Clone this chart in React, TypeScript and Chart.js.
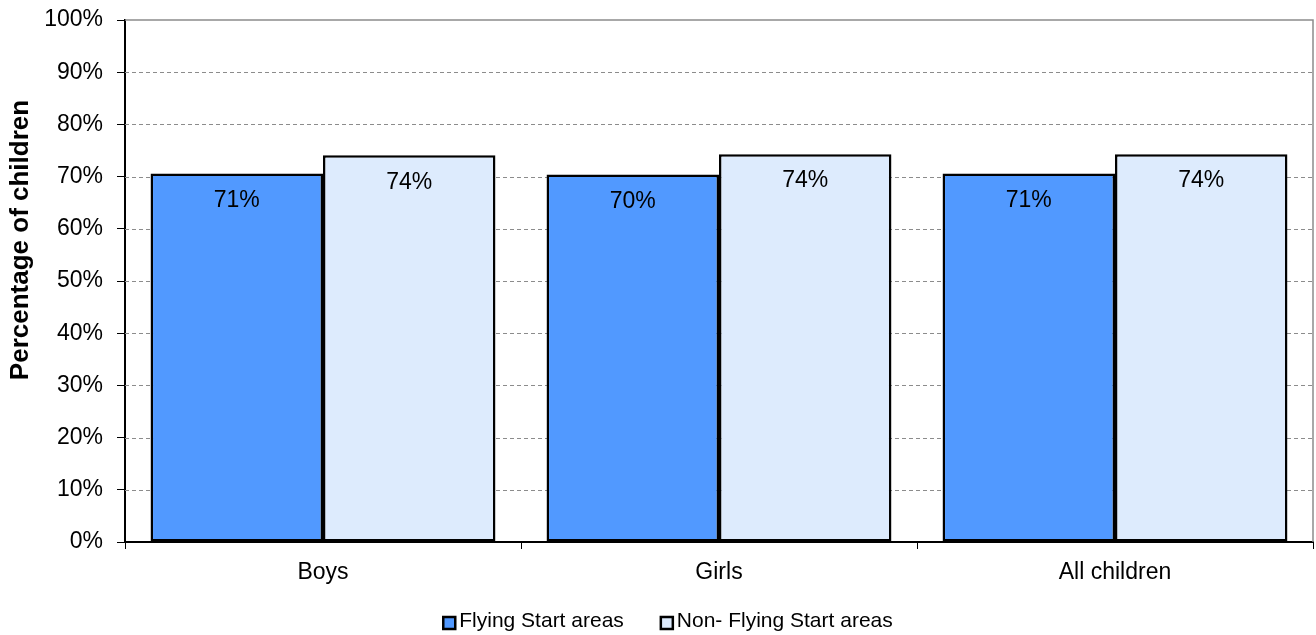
import React, { useEffect, useRef } from "react";
import { Chart, registerables } from "chart.js";

Chart.register(...registerables);

const categories = ["Boys", "Girls", "All children"];
const flyingStart = [70.6, 70.4, 70.6];
const nonFlyingStart = [74.1, 74.3, 74.3];
const seriesNames = ["Flying Start areas", "Non- Flying Start areas"];
const yTicks = [0, 10, 20, 30, 40, 50, 60, 70, 80, 90, 100];
const yTitle = "Percentage of children";

const FS_COLOR = "#5199FF";
const NFS_COLOR = "#DDEBFD";
const FONT = "Arial, 'Liberation Sans', sans-serif";

const decorPlugin = {
  id: "decor",
  beforeDatasetsDraw(chart: any) {
    const { ctx, chartArea } = chart;
    const y = chart.scales.y;
    ctx.save();
    ctx.lineWidth = 1;
    ctx.strokeStyle = "#8c8c8c";
    ctx.setLineDash([4, 3]);
    yTicks.forEach((v) => {
      if (v === 0 || v === 100) return;
      const py = Math.round(y.getPixelForValue(v)) + 0.5;
      ctx.beginPath();
      ctx.moveTo(chartArea.left, py);
      ctx.lineTo(chartArea.right, py);
      ctx.stroke();
    });
    ctx.setLineDash([]);
    ctx.strokeStyle = "#8c8c8c";
    ctx.lineWidth = 1.5;
    const top = y.getPixelForValue(100);
    ctx.beginPath();
    ctx.moveTo(chartArea.left, top);
    ctx.lineTo(chartArea.right, top);
    ctx.lineTo(chartArea.right, chartArea.bottom);
    ctx.stroke();
    ctx.restore();
  },
  afterDatasetsDraw(chart: any) {
    const { ctx } = chart;
    ctx.save();
    // data labels
    ctx.font = `23px ${FONT}`;
    ctx.fillStyle = "#000";
    ctx.textAlign = "center";
    ctx.textBaseline = "middle";
    chart.data.datasets.forEach((ds: any, di: number) => {
      const meta = chart.getDatasetMeta(di);
      meta.data.forEach((bar: any, i: number) => {
        const v = ds.data[i];
        ctx.fillText(`${Math.round(v)}%`, bar.x, bar.y + 27);
      });
    });
    // y axis title
    ctx.save();
    ctx.font = `bold 26px ${FONT}`;
    ctx.translate(21, 240);
    ctx.rotate(-Math.PI / 2);
    ctx.textAlign = "center";
    ctx.textBaseline = "middle";
    ctx.fillText(yTitle, 0, 0);
    ctx.restore();
    // legend
    ctx.font = `21px ${FONT}`;
    ctx.textAlign = "left";
    ctx.textBaseline = "middle";
    const colors = [FS_COLOR, NFS_COLOR];
    const box = 12;
    const gapBoxText = 4;
    const gapItems = 37;
    const widths = seriesNames.map((s) => ctx.measureText(s).width);
    const total = widths.reduce((a, w) => a + box + gapBoxText + w, 0) + gapItems;
    let x = 668 - total / 2;
    const ly = 621;
    seriesNames.forEach((name, i) => {
      ctx.fillStyle = colors[i];
      ctx.fillRect(x, ly - box / 2 + 2, box, box);
      ctx.strokeStyle = "#000";
      ctx.lineWidth = 2.5;
      ctx.strokeRect(x, ly - box / 2 + 2, box, box);
      ctx.fillStyle = "#000";
      ctx.fillText(name, x + box + gapBoxText, ly);
      x += box + gapBoxText + widths[i] + gapItems;
    });
    ctx.restore();
  },
};

export default function App() {
  const ref = useRef<HTMLCanvasElement | null>(null);
  useEffect(() => {
    document.body.style.margin = "0";
    const chart = new Chart(ref.current as HTMLCanvasElement, {
      type: "bar",
      data: {
        labels: categories,
        datasets: [
          {
            label: seriesNames[0],
            data: flyingStart,
            backgroundColor: FS_COLOR,
            borderColor: "#000",
            borderWidth: 2.5,
            borderSkipped: false,
          },
          {
            label: seriesNames[1],
            data: nonFlyingStart,
            backgroundColor: NFS_COLOR,
            borderColor: "#000",
            borderWidth: 2.5,
            borderSkipped: false,
          },
        ],
      },
      options: {
        responsive: false,
        animation: false,
        devicePixelRatio: 1,
        layout: { padding: { top: 20, right: 3, left: 0, bottom: 0 } },
        datasets: { bar: { categoryPercentage: 0.871, barPercentage: 1 } },
        plugins: {
          legend: { display: false },
          tooltip: { enabled: false },
          title: { display: false },
        },
        scales: {
          x: {
            grid: {
              offset: true,
              drawOnChartArea: false,
              drawTicks: true,
              tickLength: 7,
              tickColor: "#000",
              tickWidth: 1,
            },
            border: { display: true, color: "#000", width: 2 },
            ticks: {
              font: { family: FONT, size: 23 },
              color: "#000",
              padding: 10,
            },
            afterFit(scale: any) {
              scale.height = 93;
            },
          },
          y: {
            min: 0,
            max: 100,
            afterBuildTicks(scale: any) {
              scale.ticks = yTicks.map((v) => ({ value: v }));
            },
            grid: {
              drawOnChartArea: false,
              drawTicks: true,
              tickLength: 8,
              tickColor: "#000",
              tickWidth: 1,
            },
            border: { display: true, color: "#000", width: 2 },
            ticks: {
              font: { family: FONT, size: 23, lineHeight: 0.4 },
              color: "#000",
              padding: 14,
              callback: (v: any) => `${v}%`,
            },
            afterFit(scale: any) {
              scale.width = 125;
            },
          },
        },
      },
      plugins: [decorPlugin],
    });
    return () => chart.destroy();
  }, []);
  return (
    <div style={{ width: 1316, height: 635, background: "#fff" }}>
      <canvas ref={ref} width={1316} height={635} style={{ display: "block" }} />
    </div>
  );
}
